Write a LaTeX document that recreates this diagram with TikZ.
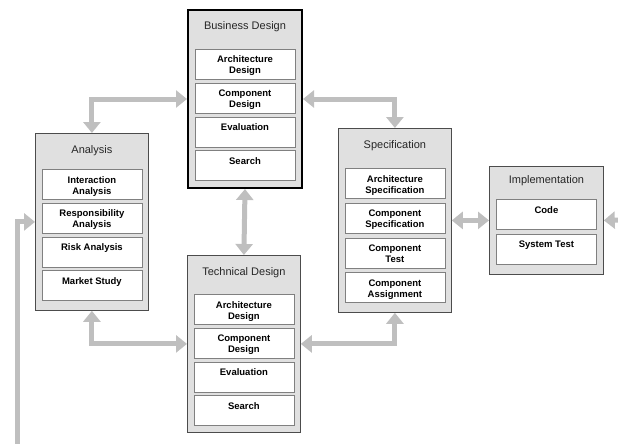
\documentclass[tikz,border=0pt]{standalone}
\usepackage{fontspec}
\setmainfont{Liberation Sans}
\usetikzlibrary{arrows.meta,positioning}
\newcommand{\itm}[2]{\rule{0pt}{11.5pt}#1\\#2\strut}

\begin{document}
\begin{tikzpicture}[x=1pt, y=-1pt,
  phase/.style={draw=black!70, fill=black!12, line width=0.8pt, anchor=north west, inner sep=0pt},
  title/.style={font=\fontsize{11}{13}\selectfont, inner sep=0pt, text height=8pt, text depth=2pt, text=black!85},
  task/.style={draw=black!50, fill=white, line width=0.8pt, minimum width=100pt, minimum height=30pt, inner sep=0pt, align=center, font=\bfseries\fontsize{9.5}{11}\selectfont},
  link/.style={draw=black!25, line width=5pt, {Triangle[length=11pt,width=17pt]}-{Triangle[length=11pt,width=17pt]}},
  into/.style={draw=black!25, line width=5pt, -{Triangle[length=11pt,width=17pt]}}
]
\useasboundingbox (0,0) rectangle (618,444);

% phase boxes
\node[phase, minimum width=113pt, minimum height=177pt] (ana) at (35,133) {};
\node[phase, minimum width=114pt, minimum height=178pt, draw=black, line width=2pt] (bus) at (187,9) {};
\node[phase, minimum width=113pt, minimum height=177pt] (tec) at (187,255) {};
\node[phase, minimum width=113pt, minimum height=184pt] (spe) at (338,128) {};
\node[phase, minimum width=114pt, minimum height=108pt] (imp) at (489,166) {};

% titles
\node[title] (anat) at ([yshift=-17pt]ana.north) {Analysis};
\node[title] (bust) at ([yshift=-18pt]bus.north) {Business Design};
\node[title] (tect) at ([yshift=-17pt]tec.north) {Technical Design};
\node[title] (spet) at ([yshift=-17pt]spe.north) {Specification};
\node[title] (impt) at ([yshift=-14pt]imp.north) {Implementation};

% Analysis
\node[task, anchor=north] (ana1) at ([yshift=-36pt]ana.north) {\itm{Interaction}{Analysis}};
\node[task, below=3pt of ana1] (ana2) {\itm{Responsibility}{Analysis}};
\node[task, below=3pt of ana2] (ana3) {\itm{Risk Analysis}{}};
\node[task, below=3pt of ana3] (ana4) {\itm{Market Study}{}};

% Business Design
\node[task, anchor=north] (bus1) at ([yshift=-40pt]bus.north) {\itm{Architecture}{Design}};
\node[task, below=3pt of bus1] (bus2) {\itm{Component}{Design}};
\node[task, below=3pt of bus2] (bus3) {\itm{Evaluation}{}};
\node[task, below=3pt of bus3] (bus4) {\itm{Search}{}};

% Technical Design
\node[task, anchor=north] (tec1) at ([yshift=-39pt]tec.north) {\itm{Architecture}{Design}};
\node[task, below=3pt of tec1] (tec2) {\itm{Component}{Design}};
\node[task, below=3pt of tec2] (tec3) {\itm{Evaluation}{}};
\node[task, below=3pt of tec3] (tec4) {\itm{Search}{}};

% Specification
\node[task, anchor=north] (spe1) at ([yshift=-40pt]spe.north) {\itm{Architecture}{Specification}};
\node[task, below=4pt of spe1] (spe2) {\itm{Component}{Specification}};
\node[task, below=4pt of spe2] (spe3) {\itm{Component}{Test}};
\node[task, below=4pt of spe3] (spe4) {\itm{Component}{Assignment}};

% Implementation
\node[task, anchor=north] (imp1) at ([yshift=-33pt]imp.north) {\itm{Code}{}};
\node[task, below=4pt of imp1] (imp2) {\itm{System Test}{}};

% links
\draw[link] (ana.north) |- (bus.west);
\draw[link] (bus.east) -| (spe.north);
\draw[link] (bus.south) -- (tec.north);
\draw[link] (ana.south) |- (tec.west);
\draw[link] (spe.south) |- (tec.east);
\draw[link] (spe.east) -- (imp.west);
\coordinate (lin) at (17,446);
\draw[into] (lin) |- (ana.west);
\coordinate (rin) at (620,220);
\draw[into] (rin) -- (imp.east);
\end{tikzpicture}
\end{document}
